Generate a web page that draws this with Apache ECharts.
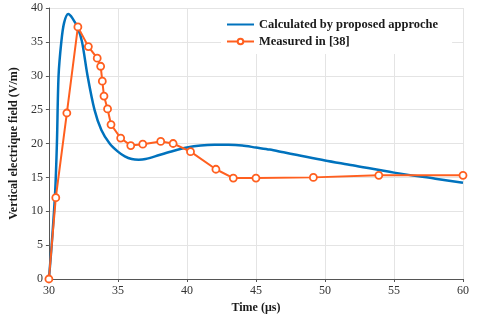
<!DOCTYPE html>
<html>
<head>
<meta charset="utf-8">
<script src="https://cdn.jsdelivr.net/npm/echarts@6/dist/echarts.min.js"></script>
<style>
  html, body { margin: 0; padding: 0; background: #fff; }
  #main { width: 480px; height: 320px; }
</style>
</head>
<body>
<div id="main"></div>
<script>
// calculated curve (blue)
var calcTime = [30, 30.2, 30.45, 30.58, 30.7, 30.9, 31.1, 31.4, 31.7, 32.1, 32.4, 32.8, 33.3, 33.8, 34.4, 35, 35.5, 36, 36.5, 37, 38, 39, 40, 41, 42, 43, 44, 45, 46, 47, 48, 50, 52, 55, 58, 60];
var calcField = [0, 5, 12.7, 20, 30, 35, 37.8, 39.1, 38.5, 37, 35, 30, 25, 22, 20, 18.8, 18.1, 17.7, 17.6, 17.7, 18.3, 18.9, 19.4, 19.7, 19.8, 19.8, 19.7, 19.4, 19.1, 18.7, 18.3, 17.5, 16.8, 15.7, 14.8, 14.2];

// measured points (orange)
var measTime = [30, 30.5, 31.3, 32.1, 32.86, 33.5, 33.75, 33.87, 33.99, 34.25, 34.5, 35.2, 35.93, 36.8, 38.1, 39.0, 40.26, 42.1, 43.36, 45.0, 49.16, 53.9, 60];
var measField = [0, 12, 24.5, 37.2, 34.3, 32.6, 31.4, 29.2, 27.0, 25.1, 22.8, 20.8, 19.7, 19.9, 20.3, 20.0, 18.8, 16.2, 14.9, 14.9, 15.0, 15.3, 15.3];

var seriesNames = ["Calculated by proposed approche", "Measured in [38]"];

function zip(a, b) {
  return a.map(function (v, i) { return [v, b[i]]; });
}

var myChart = echarts.init(document.getElementById("main"));

var serif = "'Liberation Serif', 'Times New Roman', serif";

myChart.setOption({
  animation: false,
  grid: {
    left: 47,
    right: 17,
    top: 8,
    bottom: 41
  },
  legend: {
    orient: "vertical",
    left: 221,
    top: 9,
    backgroundColor: "#fff",
    padding: [9, 14, 6, 5],
    itemWidth: 27,
    itemHeight: 7,
    itemGap: 4,
    textStyle: {
      fontFamily: serif,
      fontWeight: "bold",
      fontSize: 12.5,
      color: "#1a1a1a"
    },
    data: [
      { name: seriesNames[0], itemStyle: { opacity: 0 } },
      { name: seriesNames[1] }
    ]
  },
  xAxis: {
    type: "value",
    min: 30,
    max: 60,
    interval: 5,
    name: "Time (μs)",
    nameLocation: "middle",
    nameGap: 22,
    nameTextStyle: {
      fontFamily: serif,
      fontWeight: "bold",
      fontSize: 12,
      color: "#1a1a1a"
    },
    axisLine: { lineStyle: { color: "#555", width: 1 } },
    axisTick: { show: true, length: 3, lineStyle: { color: "#555" } },
    axisLabel: { fontFamily: serif, fontSize: 12, color: "#333", margin: 6 },
    splitLine: { show: true, lineStyle: { color: "#e4e4e4", width: 1 } }
  },
  yAxis: {
    type: "value",
    min: 0,
    max: 40,
    interval: 5,
    name: "Vertical electrique field (V/m)",
    nameLocation: "middle",
    nameGap: 28,
    nameTextStyle: {
      fontFamily: serif,
      fontWeight: "bold",
      fontSize: 12,
      color: "#1a1a1a"
    },
    axisLine: { show: true, lineStyle: { color: "#555", width: 1 } },
    axisTick: { show: true, length: 3, lineStyle: { color: "#555" } },
    axisLabel: { fontFamily: serif, fontSize: 12, color: "#333", margin: 6 },
    splitLine: { show: true, lineStyle: { color: "#e4e4e4", width: 1 } }
  },
  series: [
    {
      name: seriesNames[0],
      type: "line",
      showSymbol: false,
      symbol: "none",
      smooth: 0.3,
      lineStyle: { color: "#0072BD", width: 2.5 },
      itemStyle: { color: "#0072BD" },
      data: zip(calcTime, calcField),
      z: 2
    },
    {
      name: seriesNames[1],
      type: "line",
      symbol: "circle",
      symbolSize: 7,
      lineStyle: { color: "#FF5F1F", width: 2 },
      itemStyle: { color: "#fff", borderColor: "#FF5F1F", borderWidth: 1.8 },
      data: zip(measTime, measField),
      z: 3
    }
  ]
});
</script>
</body>
</html>
